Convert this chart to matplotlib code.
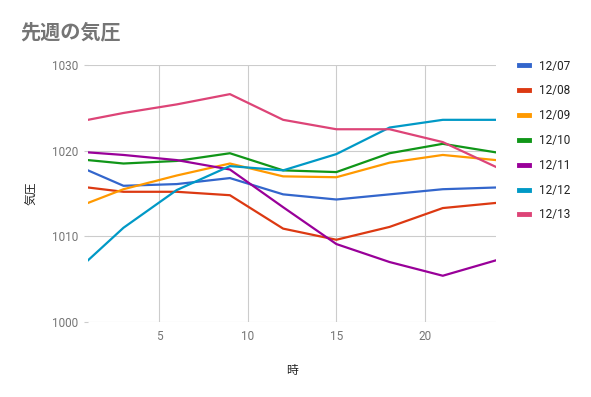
import matplotlib.pyplot as plt

plt.rcParams['font.family'] = ['Roboto', 'Noto Sans CJK JP', 'DejaVu Sans']

hours = [1, 3, 6, 9, 12, 15, 18, 21, 24]
dates = ["12/07", "12/08", "12/09", "12/10", "12/11", "12/12", "12/13"]
p_1207 = [1017.7, 1015.9, 1016.1, 1016.8, 1014.9, 1014.3, 1014.9, 1015.5, 1015.7]
p_1208 = [1015.7, 1015.2, 1015.2, 1014.8, 1010.9, 1009.6, 1011.1, 1013.3, 1013.9]
p_1209 = [1013.9, 1015.5, 1017.1, 1018.5, 1017.0, 1016.9, 1018.6, 1019.5, 1018.9]
p_1210 = [1018.9, 1018.5, 1018.8, 1019.7, 1017.7, 1017.5, 1019.7, 1020.8, 1019.8]
p_1211 = [1019.8, 1019.5, 1018.9, 1017.8, 1013.4, 1009.1, 1007.0, 1005.4, 1007.2]
p_1212 = [1007.2, 1011.0, 1015.4, 1018.2, 1017.7, 1019.6, 1022.7, 1023.6, 1023.6]
p_1213 = [1023.6, 1024.4, 1025.4, 1026.6, 1023.6, 1022.5, 1022.5, 1021.0, 1018.1]
series = [p_1207, p_1208, p_1209, p_1210, p_1211, p_1212, p_1213]
colors = ["#3366cc", "#dc3912", "#ff9900", "#109618", "#990099", "#0099c6", "#dd4477"]

fig = plt.figure(figsize=(5.91, 3.97), dpi=100)
ax = fig.add_axes([88 / 591, 1 - 322 / 397, (496 - 88) / 591, (322 - 65) / 397])

for vals, c, lab in zip(series, colors, dates):
    ax.plot(hours, vals, color=c, lw=1.6, label=lab, solid_joinstyle='round')

ax.set_xlim(1, 24)
ax.set_ylim(1000, 1030)
ax.set_xticks([5, 10, 15, 20])
ax.set_yticks([1000, 1010, 1020, 1030])
ax.grid(True, color="#cccccc", lw=0.8)
ax.set_axisbelow(True)
for s in ax.spines.values():
    s.set_visible(False)
ax.tick_params(axis='x', length=0, labelsize=8.5, labelcolor="#757575", pad=6)
ax.tick_params(axis='y', length=3, color="#cccccc", labelsize=8.5, labelcolor="#757575", pad=4)

ax.set_xlabel("時", fontsize=8.5, color="#222222", labelpad=15)
ax.set_ylabel("気圧", fontsize=8.5, color="#222222", labelpad=10)

fig.text(20 / 591, 1 - 33 / 397, "先週の気圧", fontsize=14.5, fontweight='bold',
         color="#757575", va='center', ha='left')

leg = ax.legend(loc='upper left', bbox_to_anchor=(508 / 591, 1 - 49 / 397),
                bbox_transform=fig.transFigure, frameon=False, fontsize=8.5,
                handlelength=0.9, handletextpad=0.8, labelspacing=1.0)
for line in leg.get_lines():
    line.set_linewidth(3.5)
for t in leg.get_texts():
    t.set_color("#222222")

fig.savefig("out.png", dpi=100)
